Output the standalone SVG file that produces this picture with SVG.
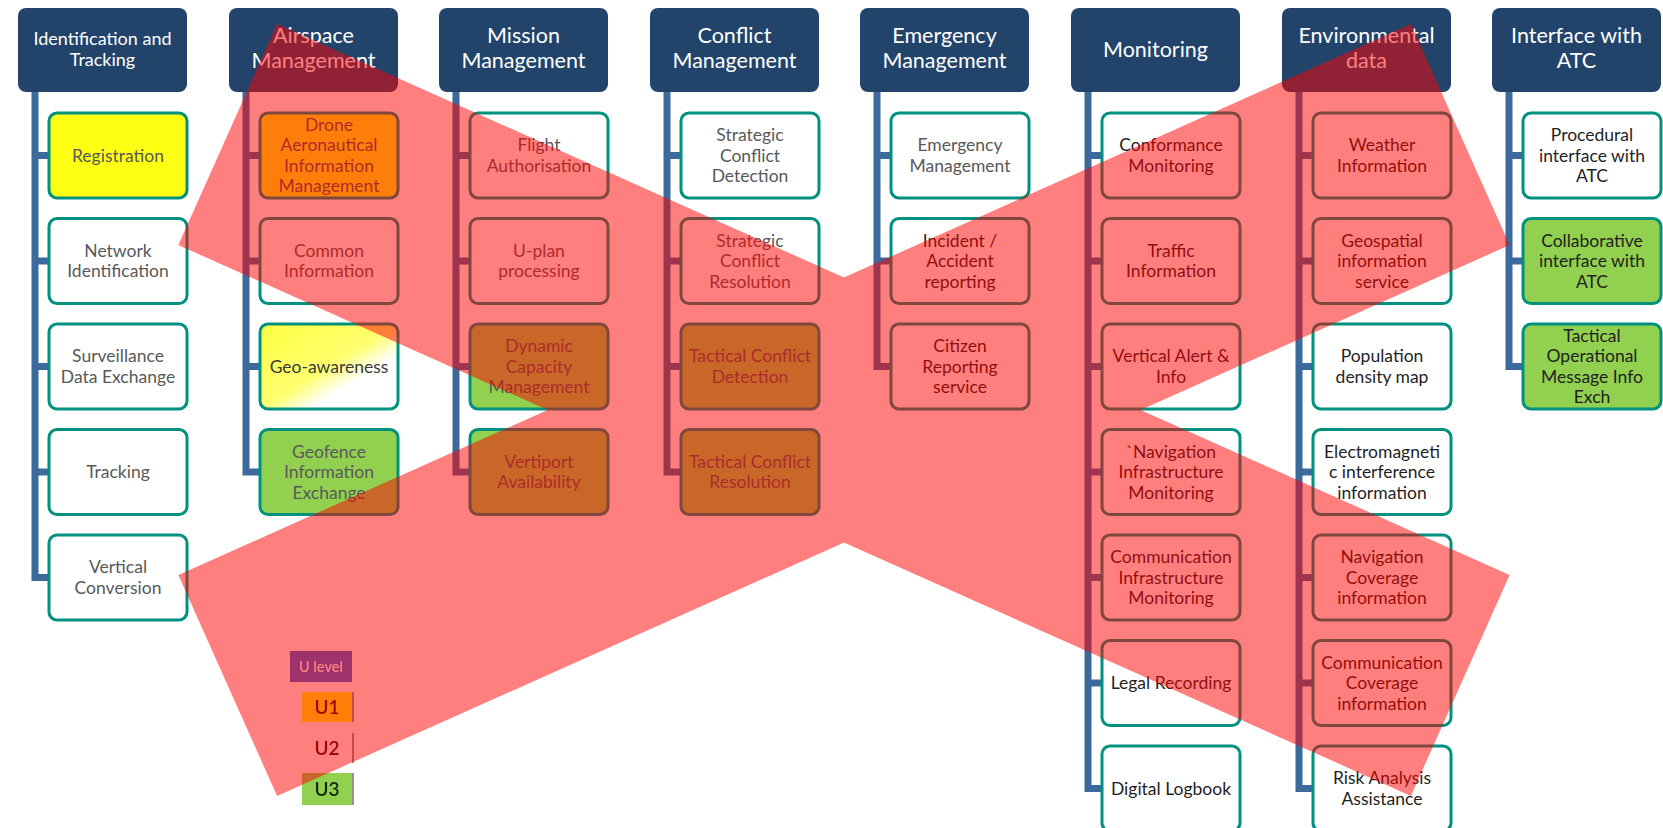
<svg xmlns="http://www.w3.org/2000/svg" width="1663" height="828" viewBox="0 0 1663 828">
  <defs>
    <style>
      .hdr rect { fill: #22446A; }
      .hdr text { fill: #FFFFFF; font-family: Lato, "Liberation Sans", sans-serif; font-size: 21.5px; text-anchor: middle; }
      .hdr text.small { font-size: 18px; }
      .box rect { fill: #FFFFFF; stroke: #00917F; stroke-width: 3; }
      .box text { fill: #595959; font-family: Lato, "Liberation Sans", sans-serif; font-size: 17.5px; text-anchor: middle; }
      .box.dark text { fill: #1F1F1F; }
      .box.u1 rect { fill: #FFFF14; }
      .box.u3 rect { fill: #92D050; }
      .box.geo rect { fill: url(#geoFill); }
      #connectors path { fill: none; stroke: #3C6A9C; stroke-width: 7; stroke-linejoin: miter; }
      #legend text { font-family: Lato, "Liberation Sans", sans-serif; text-anchor: middle; font-weight: 600; }
    </style>
    <linearGradient id="geoFill" x1="0" y1="0" x2="1" y2="1">
      <stop offset="0" stop-color="#FFFF40"/>
      <stop offset="0.5" stop-color="#FFFF70"/>
      <stop offset="0.68" stop-color="#FFFFFF"/>
      <stop offset="1" stop-color="#FFFFFF"/>
    </linearGradient>
    <filter id="soft" x="-10%" y="-10%" width="120%" height="120%">
      <feGaussianBlur stdDeviation="0.7"/>
    </filter>
  </defs>

  <rect width="1663" height="828" fill="#FFFFFF"/>

  <!-- trunk lines and branch stubs -->
  <g id="connectors">
    <path d="M35 92 V577.5 H49 M35 155.5 H49 M35 261 H49 M35 366.5 H49 M35 472 H49"/>
    <path d="M246 92 V472 H260 M246 155.5 H260 M246 261 H260 M246 366.5 H260"/>
    <path d="M456 92 V472 H470 M456 155.5 H470 M456 261 H470 M456 366.5 H470"/>
    <path d="M667 92 V472 H681 M667 155.5 H681 M667 261 H681 M667 366.5 H681"/>
    <path d="M877 92 V366.5 H891 M877 155.5 H891 M877 261 H891"/>
    <path d="M1088 92 V788.5 H1102 M1088 155.5 H1102 M1088 261 H1102 M1088 366.5 H1102 M1088 472 H1102 M1088 577.5 H1102 M1088 683 H1102"/>
    <path d="M1299 92 V788.5 H1313 M1299 155.5 H1313 M1299 261 H1313 M1299 366.5 H1313 M1299 472 H1313 M1299 577.5 H1313 M1299 683 H1313"/>
    <path d="M1509 92 V366.5 H1523 M1509 155.5 H1523 M1509 261 H1523"/>
  </g>

  <!-- column headers -->
  <g id="hdr-identification" class="hdr"><rect x="18" y="8" width="169" height="84" rx="8"/>
    <text class="small" x="102.5" y="45">Identification and<tspan x="102.5" dy="21">Tracking</tspan></text></g>
  <g id="hdr-airspace" class="hdr"><rect x="229" y="8" width="169" height="84" rx="8"/>
    <text x="313.5" y="43">Airspace<tspan x="313.5" dy="25">Management</tspan></text></g>
  <g id="hdr-mission" class="hdr"><rect x="439" y="8" width="169" height="84" rx="8"/>
    <text x="523.5" y="43">Mission<tspan x="523.5" dy="25">Management</tspan></text></g>
  <g id="hdr-conflict" class="hdr"><rect x="650" y="8" width="169" height="84" rx="8"/>
    <text x="734.5" y="43">Conflict<tspan x="734.5" dy="25">Management</tspan></text></g>
  <g id="hdr-emergency" class="hdr"><rect x="860" y="8" width="169" height="84" rx="8"/>
    <text x="944.5" y="43">Emergency<tspan x="944.5" dy="25">Management</tspan></text></g>
  <g id="hdr-monitoring" class="hdr"><rect x="1071" y="8" width="169" height="84" rx="8"/>
    <text x="1155.5" y="57">Monitoring</text></g>
  <g id="hdr-environment" class="hdr"><rect x="1282" y="8" width="169" height="84" rx="8"/>
    <text x="1366.5" y="43">Environmental<tspan x="1366.5" dy="25">data</tspan></text></g>
  <g id="hdr-atc" class="hdr"><rect x="1492" y="8" width="169" height="84" rx="8"/>
    <text x="1576.5" y="43">Interface with<tspan x="1576.5" dy="25">ATC</tspan></text></g>

  <!-- Identification and Tracking -->
  <g id="registration" class="box u1"><rect x="49" y="113" width="138" height="85" rx="8"/>
    <text x="118" y="161.5">Registration</text></g>
  <g id="network-identification" class="box"><rect x="49" y="218.5" width="138" height="85" rx="8"/>
    <text x="118" y="256.75">Network<tspan x="118" dy="20.5">Identification</tspan></text></g>
  <g id="surveillance-data-exchange" class="box"><rect x="49" y="324" width="138" height="85" rx="8"/>
    <text x="118" y="362.25">Surveillance<tspan x="118" dy="20.5">Data Exchange</tspan></text></g>
  <g id="tracking" class="box"><rect x="49" y="429.5" width="138" height="85" rx="8"/>
    <text x="118" y="478">Tracking</text></g>
  <g id="vertical-conversion" class="box"><rect x="49" y="535" width="138" height="85" rx="8"/>
    <text x="118" y="573.25">Vertical<tspan x="118" dy="20.5">Conversion</tspan></text></g>

  <!-- Airspace Management -->
  <g id="drone-aim" class="box u1"><rect x="260" y="113" width="138" height="85" rx="8"/>
    <text x="329" y="130.75">Drone<tspan x="329" dy="20.5">Aeronautical</tspan><tspan x="329" dy="20.5">Information</tspan><tspan x="329" dy="20.5">Management</tspan></text></g>
  <g id="common-information" class="box"><rect x="260" y="218.5" width="138" height="85" rx="8"/>
    <text x="329" y="256.75">Common<tspan x="329" dy="20.5">Information</tspan></text></g>
  <g id="geo-awareness" class="box geo"><rect x="260" y="324" width="138" height="85" rx="8"/>
    <text x="329" y="372.5" style="fill:#3A3A3A">Geo-awareness</text></g>
  <g id="geofence-information-exchange" class="box u3"><rect x="260" y="429.5" width="138" height="85" rx="8"/>
    <text x="329" y="457.5">Geofence<tspan x="329" dy="20.5">Information</tspan><tspan x="329" dy="20.5">Exchange</tspan></text></g>

  <!-- Mission Management -->
  <g id="flight-authorisation" class="box"><rect x="470" y="113" width="138" height="85" rx="8"/>
    <text x="539" y="151.25">Flight<tspan x="539" dy="20.5">Authorisation</tspan></text></g>
  <g id="u-plan-processing" class="box"><rect x="470" y="218.5" width="138" height="85" rx="8"/>
    <text x="539" y="256.75">U-plan<tspan x="539" dy="20.5">processing</tspan></text></g>
  <g id="dynamic-capacity-management" class="box u3"><rect x="470" y="324" width="138" height="85" rx="8"/>
    <text x="539" y="352">Dynamic<tspan x="539" dy="20.5">Capacity</tspan><tspan x="539" dy="20.5">Management</tspan></text></g>
  <g id="vertiport-availability" class="box u3"><rect x="470" y="429.5" width="138" height="85" rx="8"/>
    <text x="539" y="467.75">Vertiport<tspan x="539" dy="20.5">Availability</tspan></text></g>

  <!-- Conflict Management -->
  <g id="strategic-conflict-detection" class="box"><rect x="681" y="113" width="138" height="85" rx="8"/>
    <text x="750" y="141">Strategic<tspan x="750" dy="20.5">Conflict</tspan><tspan x="750" dy="20.5">Detection</tspan></text></g>
  <g id="strategic-conflict-resolution" class="box"><rect x="681" y="218.5" width="138" height="85" rx="8"/>
    <text x="750" y="246.5">Strategic<tspan x="750" dy="20.5">Conflict</tspan><tspan x="750" dy="20.5">Resolution</tspan></text></g>
  <g id="tactical-conflict-detection" class="box u3"><rect x="681" y="324" width="138" height="85" rx="8"/>
    <text x="750" y="362.25">Tactical Conflict<tspan x="750" dy="20.5">Detection</tspan></text></g>
  <g id="tactical-conflict-resolution" class="box u3"><rect x="681" y="429.5" width="138" height="85" rx="8"/>
    <text x="750" y="467.75">Tactical Conflict<tspan x="750" dy="20.5">Resolution</tspan></text></g>

  <!-- Emergency Management -->
  <g id="emergency-management" class="box"><rect x="891" y="113" width="138" height="85" rx="8"/>
    <text x="960" y="151.25">Emergency<tspan x="960" dy="20.5">Management</tspan></text></g>
  <g id="incident-reporting" class="box dark"><rect x="891" y="218.5" width="138" height="85" rx="8"/>
    <text x="960" y="246.5">Incident /<tspan x="960" dy="20.5">Accident</tspan><tspan x="960" dy="20.5">reporting</tspan></text></g>
  <g id="citizen-reporting" class="box dark"><rect x="891" y="324" width="138" height="85" rx="8"/>
    <text x="960" y="352">Citizen<tspan x="960" dy="20.5">Reporting</tspan><tspan x="960" dy="20.5">service</tspan></text></g>

  <!-- Monitoring -->
  <g id="conformance-monitoring" class="box dark"><rect x="1102" y="113" width="138" height="85" rx="8"/>
    <text x="1171" y="151.25">Conformance<tspan x="1171" dy="20.5">Monitoring</tspan></text></g>
  <g id="traffic-information" class="box dark"><rect x="1102" y="218.5" width="138" height="85" rx="8"/>
    <text x="1171" y="256.75">Traffic<tspan x="1171" dy="20.5">Information</tspan></text></g>
  <g id="vertical-alert" class="box dark"><rect x="1102" y="324" width="138" height="85" rx="8"/>
    <text x="1171" y="362.25">Vertical Alert &amp;<tspan x="1171" dy="20.5">Info</tspan></text></g>
  <g id="navigation-infrastructure-monitoring" class="box dark"><rect x="1102" y="429.5" width="138" height="85" rx="8"/>
    <text x="1171" y="457.5">`Navigation<tspan x="1171" dy="20.5">Infrastructure</tspan><tspan x="1171" dy="20.5">Monitoring</tspan></text></g>
  <g id="communication-infrastructure-monitoring" class="box dark"><rect x="1102" y="535" width="138" height="85" rx="8"/>
    <text x="1171" y="563">Communication<tspan x="1171" dy="20.5">Infrastructure</tspan><tspan x="1171" dy="20.5">Monitoring</tspan></text></g>
  <g id="legal-recording" class="box dark"><rect x="1102" y="640.5" width="138" height="85" rx="8"/>
    <text x="1171" y="689">Legal Recording</text></g>
  <g id="digital-logbook" class="box dark"><rect x="1102" y="746" width="138" height="85" rx="8"/>
    <text x="1171" y="794.5">Digital Logbook</text></g>

  <!-- Environmental data -->
  <g id="weather-information" class="box dark"><rect x="1313" y="113" width="138" height="85" rx="8"/>
    <text x="1382" y="151.25">Weather<tspan x="1382" dy="20.5">Information</tspan></text></g>
  <g id="geospatial-information" class="box dark"><rect x="1313" y="218.5" width="138" height="85" rx="8"/>
    <text x="1382" y="246.5">Geospatial<tspan x="1382" dy="20.5">information</tspan><tspan x="1382" dy="20.5">service</tspan></text></g>
  <g id="population-density" class="box dark"><rect x="1313" y="324" width="138" height="85" rx="8"/>
    <text x="1382" y="362.25">Population<tspan x="1382" dy="20.5">density map</tspan></text></g>
  <g id="electromagnetic-interference" class="box dark"><rect x="1313" y="429.5" width="138" height="85" rx="8"/>
    <text x="1382" y="457.5">Electromagneti<tspan x="1382" dy="20.5">c interference</tspan><tspan x="1382" dy="20.5">information</tspan></text></g>
  <g id="navigation-coverage" class="box dark"><rect x="1313" y="535" width="138" height="85" rx="8"/>
    <text x="1382" y="563">Navigation<tspan x="1382" dy="20.5">Coverage</tspan><tspan x="1382" dy="20.5">information</tspan></text></g>
  <g id="communication-coverage" class="box dark"><rect x="1313" y="640.5" width="138" height="85" rx="8"/>
    <text x="1382" y="668.5">Communication<tspan x="1382" dy="20.5">Coverage</tspan><tspan x="1382" dy="20.5">information</tspan></text></g>
  <g id="risk-analysis" class="box dark"><rect x="1313" y="746" width="138" height="85" rx="8"/>
    <text x="1382" y="784.25">Risk Analysis<tspan x="1382" dy="20.5">Assistance</tspan></text></g>

  <!-- Interface with ATC -->
  <g id="procedural-interface" class="box dark"><rect x="1523" y="113" width="138" height="85" rx="8"/>
    <text x="1592" y="141">Procedural<tspan x="1592" dy="20.5">interface with</tspan><tspan x="1592" dy="20.5">ATC</tspan></text></g>
  <g id="collaborative-interface" class="box dark u3"><rect x="1523" y="218.5" width="138" height="85" rx="8"/>
    <text x="1592" y="246.5">Collaborative<tspan x="1592" dy="20.5">interface with</tspan><tspan x="1592" dy="20.5">ATC</tspan></text></g>
  <g id="tactical-operational-message" class="box dark u3"><rect x="1523" y="324" width="138" height="85" rx="8"/>
    <text x="1592" y="341.75">Tactical<tspan x="1592" dy="20.5">Operational</tspan><tspan x="1592" dy="20.5">Message Info</tspan><tspan x="1592" dy="20.5">Exch</tspan></text></g>

  <!-- U level legend -->
  <g id="legend" filter="url(#soft)">
    <rect x="290" y="651" width="62" height="31" fill="#3D68D8"/>
    <text x="321" y="672" font-size="14.5" fill="#FFFFFF">U level</text>
    <rect x="302" y="692" width="50" height="30" fill="#FFFF14"/>
    <text x="327" y="714" font-size="19" fill="#3A0A00">U1</text>
    <rect x="302" y="733" width="50" height="30" fill="#FFFFFF"/>
    <text x="327" y="755" font-size="19" fill="#3A0A10">U2</text>
    <rect x="302" y="773" width="50" height="32" fill="#92D050"/>
    <text x="327" y="796" font-size="19" fill="#102A08">U3</text>
    <path d="M353 692 V722 M353 733 V763 M353 773 V805" stroke="#707070" stroke-width="1.5" fill="none"/>
  </g>

  <!-- translucent red cross drawn over everything -->
  <g id="cross" opacity="0.5" fill="#FF0000">
    <rect x="-675" y="-121" width="1350" height="242" transform="translate(844 410) rotate(24.08)"/>
    <rect x="-675" y="-121" width="1350" height="242" transform="translate(844 410) rotate(-24.08)"/>
  </g>
</svg>
